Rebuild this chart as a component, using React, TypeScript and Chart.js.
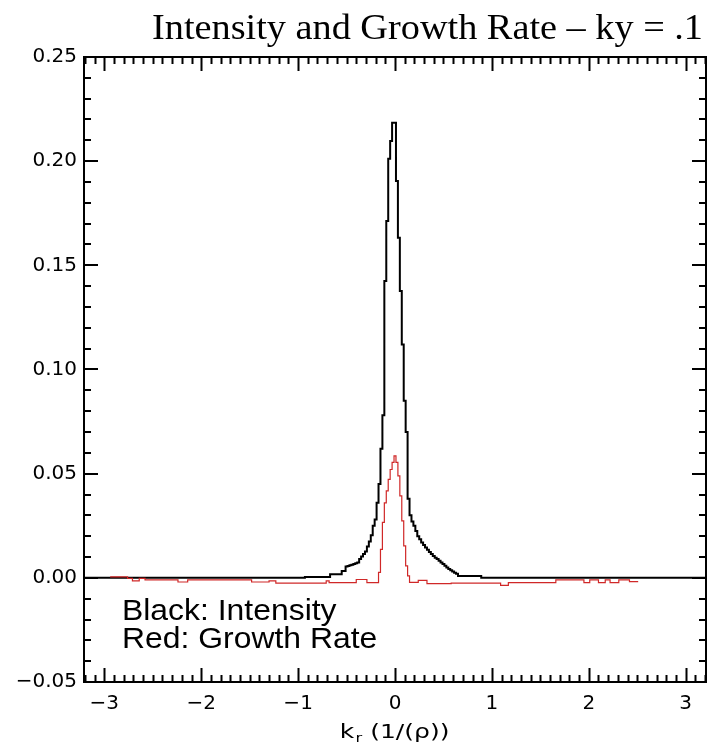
import React, { useEffect, useRef } from "react";
import { Chart, registerables } from "chart.js";

Chart.register(...registerables);

// Radial wavenumber grid (1/rho) and intensity profile (black trace)
const kIntensity = [
  -3.21, -0.94, -0.92, -0.68, -0.66, -0.56, -0.54, -0.52, -0.5, -0.48, -0.46, -0.44, -0.42,
  -0.4, -0.38, -0.36, -0.34, -0.32, -0.3, -0.28, -0.26, -0.24, -0.22, -0.2, -0.18, -0.16,
  -0.14, -0.12, -0.1, -0.08, -0.06, -0.04, -0.02, 0, 0.02, 0.04, 0.06, 0.08, 0.1, 0.12, 0.14,
  0.16, 0.18, 0.2, 0.22, 0.24, 0.26, 0.28, 0.3, 0.32, 0.34, 0.36, 0.38, 0.4, 0.42, 0.44, 0.46,
  0.48, 0.5, 0.52, 0.54, 0.56, 0.58, 0.6, 0.62, 0.64, 0.66, 0.88, 0.9, 3.21,
];
const intensity = [
  0, 0, 0.0004, 0.0004, 0.0017, 0.0017, 0.0033, 0.0033, 0.0055, 0.0057, 0.006, 0.0063, 0.0067,
  0.007, 0.0074, 0.009, 0.0102, 0.0115, 0.0127, 0.015, 0.0175, 0.0205, 0.025, 0.028, 0.036, 0.045,
  0.062, 0.078, 0.1425, 0.1713, 0.2012, 0.2097, 0.2185, 0.2185, 0.1905, 0.1633, 0.1377, 0.112,
  0.085, 0.07, 0.038, 0.03, 0.027, 0.025, 0.0225, 0.02, 0.0185, 0.017, 0.0158, 0.0146, 0.0135,
  0.0124, 0.0114, 0.0105, 0.0097, 0.009, 0.0082, 0.0074, 0.0066, 0.0058, 0.005, 0.0043, 0.0036,
  0.003, 0.0025, 0.002, 0.0009, 0.0009, 0, 0,
];

// Growth rate profile (red trace), defined only over its computed range
const kGrowth = [
  -2.94, -2.77, -2.75, -2.72, -2.7, -2.65, -2.63, -2.59, -2.57, -2.25, -2.23, -2.15, -2.13, -1.49,
  -1.47, -1.31, -1.29, -1.24, -1.22, -0.72, -0.7, -0.69, -0.67, -0.41, -0.39, -0.3, -0.28, -0.2,
  -0.18, -0.16, -0.14, -0.12, -0.1, -0.08, -0.06, -0.04, -0.02, 0, 0.02, 0.04, 0.06, 0.08, 0.1,
  0.12, 0.14, 0.16, 0.23, 0.25, 0.32, 0.34, 0.57, 0.59, 1.08, 1.1, 1.16, 1.18, 1.65, 1.67, 1.94,
  1.96, 2.0, 2.02, 2.09, 2.11, 2.16, 2.18, 2.21, 2.23, 2.3, 2.32, 2.41, 2.43, 2.51,
];
const growth = [
  0.0005, 0.0005, -0.0003, -0.0003, -0.0015, -0.0015, -0.0003, -0.0003, -0.001, -0.001, -0.002,
  -0.002, -0.001, -0.001, -0.002, -0.002, -0.0015, -0.0015, -0.0025, -0.0025, -0.0015, -0.0015,
  -0.0023, -0.0023, -0.0008, -0.0008, -0.0023, -0.0023, -0.0023, 0.0026, 0.0137, 0.0266, 0.036,
  0.0417, 0.0473, 0.052, 0.0554, 0.0585, 0.0554, 0.0489, 0.0393, 0.0273, 0.0153, 0.0057, 0.0009,
  -0.0022, -0.0022, -0.0012, -0.0012, -0.0028, -0.0028, -0.0025, -0.0025, -0.0036, -0.0036,
  -0.0023, -0.0023, -0.001, -0.001, -0.0023, -0.0023, -0.001, -0.001, -0.0023, -0.0023, -0.001,
  -0.001, -0.0023, -0.0023, -0.001, -0.001, -0.0018, -0.0018,
];

// Axis ranges and labelling
const kRange = [-3.21, 3.21];
const valueRange = [-0.05, 0.25];
const kMajorStep = 1;
const kMinorStep = 0.1;
const valueMajorStep = 0.05;
const valueMinorStep = 0.01;

const titleText = "Intensity and Growth Rate \u2013 ky = .1";
const legendLines = ["Black: Intensity", "Red: Growth Rate"];
const axisLabelMain = "k";
const axisLabelSub = "r";
const axisLabelRest = " (1/(\u03c1))";

const TICK_FONT = '"DejaVu Sans", sans-serif';

const zip = (xs: number[], ys: number[]) => xs.map((x, i) => ({ x, y: ys[i] }));

const minus = (s: string, neg: boolean) => (neg ? "\u2212" + s : s);

// Boxed frame with inward major/minor ticks on all four sides
const framePlugin = {
  id: "idlFrame",
  afterDatasetsDraw(chart: any) {
    const { ctx, chartArea: a, scales } = chart;
    const xs = scales.x;
    const ys = scales.y;
    ctx.save();
    ctx.strokeStyle = "#000";
    ctx.lineWidth = 2;
    ctx.lineCap = "butt";
    ctx.beginPath();
    const xFirst = Math.ceil(xs.min / kMinorStep - 1e-6);
    const xLast = Math.floor(xs.max / kMinorStep + 1e-6);
    const perMajorX = Math.round(kMajorStep / kMinorStep);
    for (let i = xFirst; i <= xLast; i++) {
      const px = Math.round(xs.getPixelForValue(i * kMinorStep)) + 0.5;
      const len = i % perMajorX === 0 ? 14 : 7;
      ctx.moveTo(px, a.bottom);
      ctx.lineTo(px, a.bottom - len);
      ctx.moveTo(px, a.top);
      ctx.lineTo(px, a.top + len);
    }
    const yFirst = Math.ceil(ys.min / valueMinorStep - 1e-6);
    const yLast = Math.floor(ys.max / valueMinorStep + 1e-6);
    const perMajorY = Math.round(valueMajorStep / valueMinorStep);
    for (let i = yFirst; i <= yLast; i++) {
      const py = Math.round(ys.getPixelForValue(i * valueMinorStep));
      const len = i % perMajorY === 0 ? 14 : 7;
      ctx.moveTo(a.left, py);
      ctx.lineTo(a.left + len, py);
      ctx.moveTo(a.right, py);
      ctx.lineTo(a.right - len, py);
    }
    ctx.stroke();
    ctx.strokeRect(a.left, a.top, a.right - a.left, a.bottom - a.top);
    ctx.restore();
  },
  afterDraw(chart: any) {
    const { ctx, chartArea: a } = chart;
    ctx.save();
    ctx.fillStyle = "#000";
    ctx.textBaseline = "alphabetic";

    // Title
    ctx.font = '36px "Liberation Serif", "Times New Roman", serif';
    const tw = ctx.measureText(titleText).width;
    const targetW = 551;
    ctx.save();
    ctx.translate(427.5 - targetW / 2, 39);
    ctx.scale(targetW / tw, 1);
    ctx.textAlign = "left";
    ctx.fillText(titleText, 0, 0);
    ctx.restore();

    // Annotation inside the plot
    ctx.font = '29px "Liberation Sans", Arial, sans-serif';
    legendLines.forEach((line, i) => {
      ctx.save();
      ctx.translate(a.left + 38, 620 + i * 28);
      ctx.scale(1.1, 1);
      ctx.textAlign = "left";
      ctx.fillText(line, 0, 0);
      ctx.restore();
    });

    // x-axis title with subscript
    const mainFont = "20px " + TICK_FONT;
    const subFont = "13px " + TICK_FONT;
    ctx.font = mainFont;
    const w1 = ctx.measureText(axisLabelMain).width;
    const w3 = ctx.measureText(axisLabelRest).width;
    ctx.font = subFont;
    const w2 = ctx.measureText(axisLabelSub).width;
    const total = w1 + w2 + w3;
    const sx = 1.25;
    const cx = (a.left + a.right) / 2 - 1;
    const x0 = cx - (total * sx) / 2;
    ctx.save();
    ctx.translate(x0, 738);
    ctx.scale(sx, 1);
    ctx.font = mainFont;
    ctx.fillText(axisLabelMain, 0, 0);
    ctx.font = subFont;
    ctx.fillText(axisLabelSub, w1 + 1, 4);
    ctx.font = mainFont;
    ctx.fillText(axisLabelRest, w1 + w2 + 1, 0);
    ctx.restore();
    ctx.restore();
  },
};

export default function App() {
  const canvasRef = useRef<HTMLCanvasElement | null>(null);

  useEffect(() => {
    if (!canvasRef.current) return;
    const chart = new Chart(canvasRef.current, {
      type: "line",
      data: {
        datasets: [
          {
            label: "Growth Rate",
            data: zip(kGrowth, growth),
            borderColor: "rgb(208, 40, 40)",
            borderWidth: 1.2,
            pointRadius: 0,
            stepped: "middle",
            fill: false,
            order: 0,
          },
          {
            label: "Intensity",
            data: zip(kIntensity, intensity),
            borderColor: "#000",
            borderWidth: 2,
            pointRadius: 0,
            stepped: "middle",
            fill: false,
            order: 1,
          },
        ],
      },
      options: {
        animation: false,
        responsive: false,
        devicePixelRatio: 1,
        layout: { padding: { top: 57, right: 2, left: 0, bottom: 0 } },
        plugins: {
          legend: { display: false },
          title: { display: false },
          tooltip: { enabled: false },
        },
        scales: {
          x: {
            type: "linear",
            min: kRange[0],
            max: kRange[1],
            grid: { display: false, drawTicks: false },
            border: { display: false },
            afterFit: (s: any) => {
              s.height = 61;
            },
            ticks: {
              stepSize: kMajorStep,
              includeBounds: false,
              autoSkip: false,
              maxRotation: 0,
              padding: 10,
              color: "#000",
              font: { family: TICK_FONT, size: 20 },
              callback: (v: any) => {
                const n = Math.round(Number(v));
                return minus(String(Math.abs(n)), n < 0);
              },
            },
          },
          y: {
            type: "linear",
            min: valueRange[0],
            max: valueRange[1],
            grid: { display: false, drawTicks: false },
            border: { display: false },
            afterFit: (s: any) => {
              s.width = 84;
            },
            ticks: {
              stepSize: valueMajorStep,
              autoSkip: false,
              padding: 7,
              color: "#000",
              font: { family: TICK_FONT, size: 20 },
              callback: (v: any) => {
                const n = Number(v);
                return minus(Math.abs(n).toFixed(2), n < -1e-9);
              },
            },
          },
        },
      },
      plugins: [framePlugin],
    });
    return () => chart.destroy();
  }, []);

  return (
    <div style={{ position: "fixed", left: 0, top: 0, width: 708, height: 743, background: "#fff" }}>
      <canvas ref={canvasRef} width={708} height={743} style={{ display: "block" }} />
    </div>
  );
}
